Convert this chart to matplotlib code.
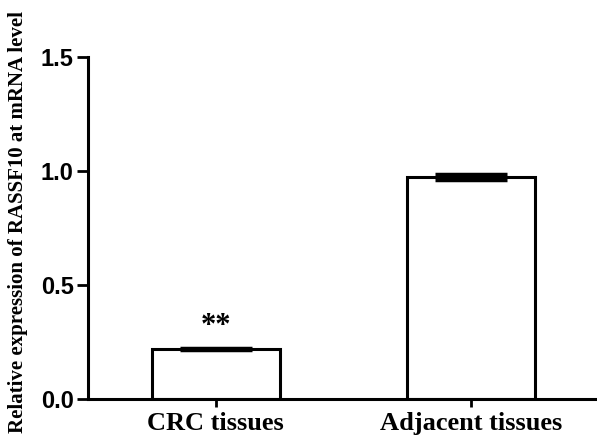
import numpy as np
import matplotlib.pyplot as plt

# values
groups = ['CRC tissues', 'Adjacent tissues']
means = [0.22, 0.975]
errs = [0.005, 0.012]
signif = ['**', '']

fig = plt.figure(figsize=(5.97, 4.47), dpi=100)
ax = fig.add_axes([0.147, 0.107, 0.853, 0.765])

x = np.arange(len(groups))
ax.bar(x, means, width=0.5, color='white', edgecolor='black', linewidth=2.2, zorder=2)
ax.errorbar(x, means, yerr=errs, fmt='none', ecolor='black', elinewidth=2.2,
            capsize=26, capthick=2.5, zorder=3)

for xi, m, s in zip(x, means, signif):
    if s:
        ax.text(xi, m + 0.035, s, ha='center', va='bottom', fontsize=22,
                fontweight='bold', family='Liberation Serif')

ax.set_xlim(-0.502, 1.494)
ax.set_ylim(0, 1.5)
ax.set_yticks([0.0, 0.5, 1.0, 1.5])
ax.set_yticklabels(['0.0', '0.5', '1.0', '1.5'], fontsize=17, fontweight='bold',
                   family='Liberation Sans')
ax.set_xticks(x)
ax.set_xticklabels(groups, fontsize=19, fontweight='bold', family='Liberation Serif')
ax.tick_params(axis='y', width=2, length=8, direction='out', pad=2)
ax.tick_params(axis='x', width=2, length=6, direction='out', pad=3)

ax.spines['top'].set_visible(False)
ax.spines['right'].set_visible(False)
ax.spines['left'].set_linewidth(2.2)
ax.spines['bottom'].set_linewidth(2.2)

ax.set_ylabel('Relative expression of RASSF10 at mRNA level', fontsize=15,
              fontweight='bold', family='Liberation Serif')
ax.yaxis.set_label_coords(-0.118, 0.518)

fig.savefig('out.png', dpi=100)
